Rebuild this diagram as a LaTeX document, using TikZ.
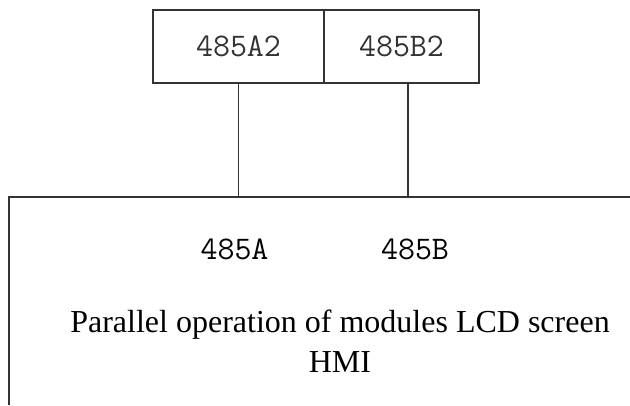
\documentclass[tikz,border=0pt]{standalone}
\usepackage{fontspec}
\setmainfont{Liberation Serif}
\usepackage{tikz}
\usetikzlibrary{positioning,calc}

\tikzset{
    wire/.style={line width=1.5pt, black!80},
    portbox/.style={draw, wire, rectangle, minimum height=73pt, inner sep=0pt,
        font=\ttfamily\fontsize{33}{36}\selectfont},
    pinlabel/.style={anchor=base, inner sep=0pt, font=\ttfamily\fontsize{33}{36}\selectfont},
    hmitext/.style={anchor=base, inner sep=0pt, font=\fontsize{32}{40}\selectfont}
}

\begin{document}
\begin{tikzpicture}[x=1pt, y=1pt]
    \useasboundingbox (0,0) rectangle (630,405);

    % upper connector: two terminals side by side
    \node[portbox, minimum width=171pt] (a2) at (238.5,358.5) {485A2};
    \node[portbox, minimum width=155pt] (b2) at (401.5,358.5) {485B2};

    % LCD screen board, cut off at right and bottom
    \coordinate (lcdtl) at (9,208);
    \coordinate (lcdtr) at (630,208);
    \coordinate (lcdbl) at (9,0);
    \draw[wire] (lcdbl) -- (lcdtl) -- (lcdtr);

    % pins on the board
    \node[pinlabel] (pa) at (234.5,146) {485A};
    \node[pinlabel] (pb) at (415,146) {485B};
    \node[hmitext] (title) at (340,73) {Parallel operation of modules LCD screen};
    \node[hmitext] (hmi) at (340,33) {HMI};

    % wires down to the board
    \coordinate (wb) at ([xshift=6.5pt]b2.south);
    \draw[wire] (a2.south) -- (a2.south |- lcdtl);
    \draw[wire] (wb) -- (wb |- lcdtl);
\end{tikzpicture}
\end{document}
